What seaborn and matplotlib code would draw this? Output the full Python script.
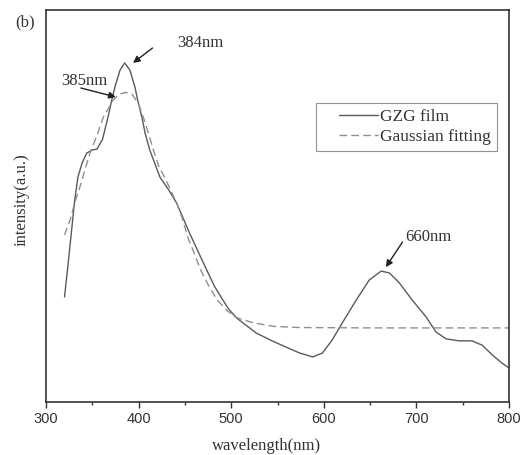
import numpy as np
import pandas as pd
import matplotlib
matplotlib.use("Agg")
import matplotlib.pyplot as plt
from matplotlib.ticker import MultipleLocator
from matplotlib.legend_handler import HandlerLine2D
import seaborn as sns

# Data (intensity in arbitrary units, 0..1 of the axis)
film_wl = [320, 324, 328, 331, 334.5, 339, 344, 350, 355, 361, 367, 371, 374.5,
           380, 385, 390.5, 396, 399, 403.5, 407, 412, 423, 432.5, 441, 455,
           464, 473.5, 482, 491, 498, 506, 527, 545, 566, 574, 588, 598.5, 609,
           620, 635, 649, 662, 671, 681.5, 695.5, 710.5, 721, 732, 746, 760,
           771, 782, 792.5, 800]
film_int = [0.268, 0.355, 0.446, 0.515, 0.574, 0.610, 0.635, 0.643, 0.645,
            0.670, 0.727, 0.770, 0.804, 0.847, 0.865, 0.847, 0.804, 0.770,
            0.727, 0.686, 0.643, 0.574, 0.541, 0.508, 0.431, 0.385, 0.337,
            0.295, 0.260, 0.235, 0.214, 0.176, 0.155, 0.133, 0.125, 0.115,
            0.125, 0.158, 0.202, 0.260, 0.311, 0.334, 0.329, 0.304, 0.260,
            0.217, 0.179, 0.161, 0.156, 0.156, 0.145, 0.120, 0.099, 0.087]

fit_wl = [320, 326, 331, 336.5, 342, 347.5, 355, 362, 372.5, 379, 386, 393,
          400, 405, 410, 416, 422, 428, 441, 447, 453, 460, 467, 476, 485, 496,
          507, 524, 546, 572, 650, 800]
fit_int = [0.426, 0.464, 0.508, 0.548, 0.592, 0.635, 0.680, 0.727, 0.770,
           0.785, 0.790, 0.785, 0.760, 0.727, 0.690, 0.643, 0.600, 0.574,
           0.508, 0.470, 0.421, 0.380, 0.337, 0.295, 0.260, 0.232, 0.214,
           0.202, 0.193, 0.190, 0.189, 0.189]

# peak labels: text, text centre, arrow tail, arrow tip (wavelength, intensity)
peak_labels = ["384nm", "385nm", "660nm"]
peak_text_pos = [(467, 0.916), (341, 0.818), (713, 0.421)]
peak_tails = [(415, 0.903), (337.7, 0.801), (685, 0.408)]
peak_tips = [(394, 0.865), (375.4, 0.778), (667, 0.344)]

film_df = pd.DataFrame({"wavelength": film_wl, "intensity": film_int})
fit_df = pd.DataFrame({"wavelength": fit_wl, "intensity": fit_int})

sns.set_style("ticks")
plt.rcParams["font.family"] = ["Liberation Serif", "DejaVu Serif"]

text_col = "#333333"

fig = plt.figure(figsize=(5.26, 4.55), dpi=100)
ax = fig.add_axes([46 / 526, 1 - 402 / 455, 463 / 526, 392 / 455])

sns.lineplot(data=film_df, x="wavelength", y="intensity", ax=ax,
             color="#5a5a5a", linewidth=1.0, label="GZG film")
sns.lineplot(data=fit_df, x="wavelength", y="intensity", ax=ax,
             color="#8f8f8f", linewidth=1.0, linestyle=(0, (5.5, 3)),
             label="Gaussian fitting")

ax.set_xlim(300, 800)
ax.set_ylim(0, 1)
ax.xaxis.set_major_locator(MultipleLocator(100))
ax.xaxis.set_minor_locator(MultipleLocator(50))
ax.set_yticks([])
ax.tick_params(axis="x", which="major", direction="out", length=4, width=1,
               color=text_col, labelsize=10.5, labelcolor=text_col, pad=3)
ax.tick_params(axis="x", which="minor", direction="out", length=2.5, width=1,
               color=text_col)
for lab in ax.get_xticklabels():
    lab.set_family(["Liberation Sans", "DejaVu Sans"])

for s in ax.spines.values():
    s.set_color(text_col)
    s.set_linewidth(1.2)

ax.set_xlabel("wavelength(nm)", fontsize=12, color=text_col)
ax.xaxis.set_label_coords((267 - 46) / 463, -0.092)
ax.set_ylabel("intensity(a.u.)", fontsize=12, color=text_col)
ax.yaxis.set_label_coords(-0.035, 0.515)

for lab, pos, tail, tip in zip(peak_labels, peak_text_pos, peak_tails, peak_tips):
    ax.annotate("", xy=tip, xytext=tail,
                arrowprops=dict(arrowstyle="-|>", color="#222222", lw=1.0,
                                mutation_scale=10, shrinkA=0, shrinkB=0))
    ax.text(pos[0], pos[1], lab, fontsize=12, color=text_col,
            ha="center", va="center")


# legend lines only fill the right part of the handle box, like the original
class ShortLine(HandlerLine2D):
    def create_artists(self, legend, orig_handle, xdescent, ydescent,
                       width, height, fontsize, trans):
        arts = super().create_artists(legend, orig_handle, xdescent, ydescent,
                                      width, height, fontsize, trans)
        line = arts[0]
        ydata = line.get_ydata()
        line.set_data(np.linspace(-xdescent + 0.3 * width, -xdescent + width,
                                  len(ydata)), ydata)
        return arts


handles, labels = ax.get_legend_handles_labels()
leg = ax.legend(handles, labels, loc="upper left",
                bbox_to_anchor=((316 - 46) / 463, (402 - 103) / 392),
                borderaxespad=0, fontsize=12.5, frameon=True, fancybox=False,
                handlelength=3.2, handletextpad=0.15, labelspacing=0.2,
                borderpad=0.35, handler_map={h: ShortLine() for h in handles})
leg.get_frame().set_edgecolor("#777777")
leg.get_frame().set_linewidth(0.8)
for t in leg.get_texts():
    t.set_color(text_col)

fig.text(25 / 526, 1 - 22 / 455, "(b)", fontsize=12, color=text_col,
         ha="center", va="center")

fig.savefig("out.png", dpi=100)
